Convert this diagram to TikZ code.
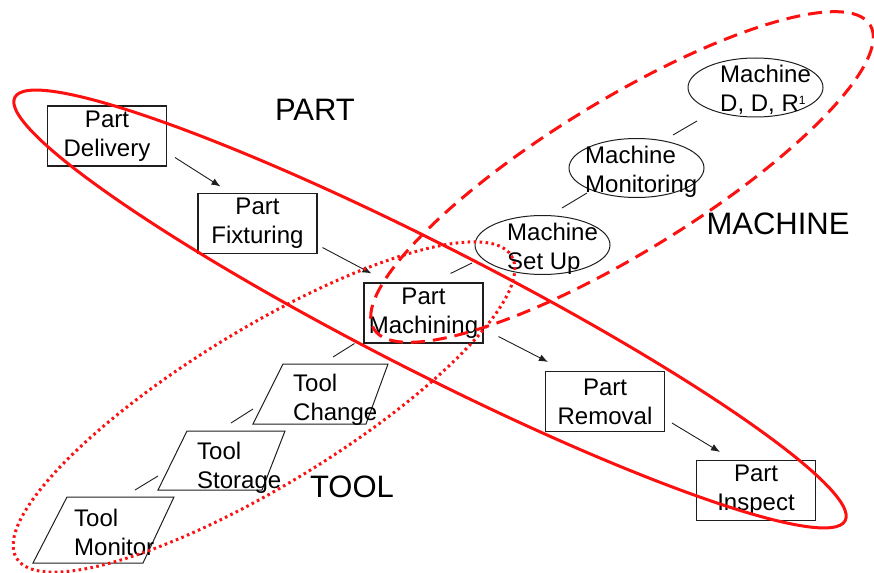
\documentclass[tikz,border=0pt]{standalone}
\usepackage{fontspec}
\setmainfont{Liberation Sans}
\usetikzlibrary{arrows.meta,shapes.geometric,calc}
\definecolor{ovred}{RGB}{252,16,16}
\definecolor{inkc}{RGB}{30,30,30}
\begin{document}
\begin{tikzpicture}[x=1pt,y=-1pt,
  lbl/.style={font=\fontsize{24}{29}\selectfont, inner sep=0pt},
  partbox/.style={draw=inkc, line width=1.1pt, minimum width=119pt, minimum height=60pt, inner sep=0pt, align=center, font=\fontsize{24}{29}\selectfont},
  mell/.style={ellipse, draw=inkc, line width=1pt, minimum width=135pt, minimum height=59pt, inner sep=0pt},
  ltxt/.style={lbl, align=left, anchor=west},
  para/.style={draw=inkc, line width=1pt},
  bigl/.style={font=\fontsize{31}{37}\selectfont, inner sep=0pt},
  arr/.style={draw=inkc, line width=0.9pt, -{Latex[length=9pt,width=7pt]}},
  conn/.style={draw=inkc, line width=0.9pt},
  ovl/.style={draw=ovred, line width=3pt},
  ovdash/.style={ovl, dash pattern=on 14pt off 8pt},
  ovdot/.style={ovl, dash pattern=on 2.6pt off 3.4pt},
]
\useasboundingbox (0,0) rectangle (874,572);

% PART boxes
\node[partbox] (del)  at (107,136)   {Part\\Delivery};
\node[partbox] (fix)  at (257.5,223.5) {Part\\Fixturing};
\node[partbox] (mach) at (423.5,313) {Part\\Machining};
\node[partbox] (rem)  at (605,401.5) {Part\\Removal};
\node[partbox] (insp) at (756,490.5) {Part\\Inspect};

\draw[arr] ([shift={(8,-9)}]del.south east) -- ([shift={(23,-6.5)}]fix.north west);
\draw[arr] ([shift={(5,-6.5)}]fix.south east) -- ([shift={(8,-9)}]mach.north west);
\draw[arr] ([shift={(15,-7)}]mach.south east) -- ([shift={(3,-9)}]rem.north west);
\draw[arr] ([shift={(7,-9)}]rem.south east) -- ([shift={(24,-8)}]insp.north west);

% MACHINE ellipses
\node[mell] (su)  at (542.5,245) {};
\node[mell] (mon) at (636.5,168) {};
\node[mell] (ddr) at (755.5,87.5) {};
\node[ltxt] (sut)  at (507,249)   {Machine\\Set Up};
\node[ltxt] (mont) at (585,171.5) {Machine\\Monitoring};
\node[ltxt] (ddrt) at (720,90)    {Machine\\D, D, R\raisebox{7pt}{\fontsize{12}{12}\selectfont 1}};

\draw[conn] ([shift={(-33,-9)}]mach.north east) -- ([shift={(-70.5,18)}]su.center);
\draw[conn] ([shift={(19.5,-37)}]su.center) -- ([shift={(-49.5,25)}]mon.center);
\draw[conn] ([shift={(36.5,-33)}]mon.center) -- ([shift={(-58.5,33.5)}]ddr.center);

% TOOL parallelograms
\coordinate (c1) at (283,364); \coordinate (c2) at (388,364);
\coordinate (c3) at (366,424); \coordinate (c4) at (253,424);
\draw[para] (c1) -- (c2) -- (c3) -- (c4) -- cycle;
\node[ltxt] (chg) at (293,400) {Tool\\Change};

\coordinate (s1) at (187,431); \coordinate (s2) at (285,431);
\coordinate (s3) at (262,490); \coordinate (s4) at (158,490);
\draw[para] (s1) -- (s2) -- (s3) -- (s4) -- cycle;
\node[ltxt] (sto) at (197,467.5) {Tool\\Storage};

\coordinate (m1) at (67,497); \coordinate (m2) at (174,497);
\coordinate (m3) at (143,563); \coordinate (m4) at (33,563);
\draw[para] (m1) -- (m2) -- (m3) -- (m4) -- cycle;
\node[ltxt] (tmon) at (74,532.5) {Tool\\Monitor};

\draw[conn] ([shift={(-9,0)}]mach.south west) -- ([shift={(50,-7)}]c1);
\draw[conn] ([shift={(0,-15)}]c4) -- ([shift={(44,-8)}]s1);
\draw[conn] ([shift={(0,-14)}]s4) -- ([shift={(68,-7)}]m1);

% group labels
\node[bigl] (lpart) at (315,110) {PART};
\node[bigl] (lmach) at (778,224) {MACHINE};
\node[bigl] (ltool) at (352,487) {TOOL};

% red group outlines
\draw[ovl, rotate around={-27:(430,309)}] (430,309) ellipse [x radius=466, y radius=63];
\draw[ovdash, rotate around={31.5:(622,177)}] (622,177) ellipse [x radius=291, y radius=76];
\draw[ovdot, rotate around={31.4:(264,407)}] (264,407) ellipse [x radius=290, y radius=78];
\end{tikzpicture}
\end{document}
